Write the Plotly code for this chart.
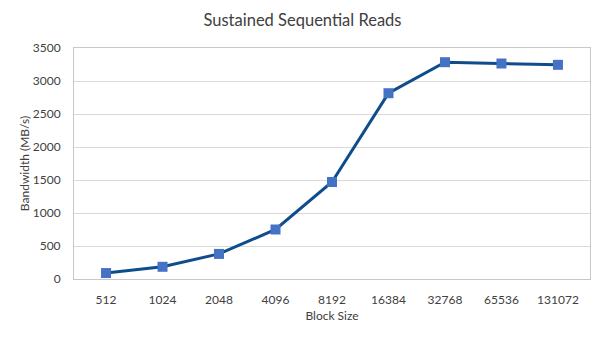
import plotly.graph_objects as go

block_sizes = ["512", "1024", "2048", "4096", "8192", "16384", "32768", "65536", "131072"]
bandwidth = [90, 185, 380, 750, 1470, 2815, 3285, 3265, 3245]
y_ticks = [0, 500, 1000, 1500, 2000, 2500, 3000, 3500]

font_family = "Lato, 'Open Sans', sans-serif"

fig = go.Figure()
fig.add_trace(go.Scatter(
    x=block_sizes, y=bandwidth, mode="lines+markers",
    line=dict(color="#0e4c8c", width=3),
    marker=dict(symbol="square", size=10, color="#4472c4", line=dict(width=0)),
    showlegend=False,
))

fig.update_layout(
    width=605, height=340,
    margin=dict(l=74, r=15, t=48, b=61),
    paper_bgcolor="white", plot_bgcolor="white",
    font=dict(family=font_family, color="#595959"),
    title=dict(text="Sustained Sequential Reads", x=0.5, xanchor="center", y=0.94, yanchor="middle",
               font=dict(size=16.5, color="#404040")),
)
fig.update_xaxes(
    type="category", showgrid=False, showline=True, linecolor="#c8c8c8", linewidth=1, mirror=True,
    ticks="", tickfont=dict(size=12, color="#404040"), ticklabelstandoff=10,
    title=dict(text="Block Size", font=dict(size=12, color="#404040"), standoff=5),
)
fig.update_yaxes(
    range=[0, 3500], tickvals=y_ticks, showgrid=True, gridcolor="#d9d9d9", gridwidth=1,
    showline=True, linecolor="#c8c8c8", linewidth=1, mirror=True, zeroline=False,
    ticks="", tickfont=dict(size=12, color="#404040"), ticklabelstandoff=10,
    title=dict(text="Bandwidth (MB/s)", font=dict(size=12, color="#404040"), standoff=0),
)

fig.write_html("out.html")
